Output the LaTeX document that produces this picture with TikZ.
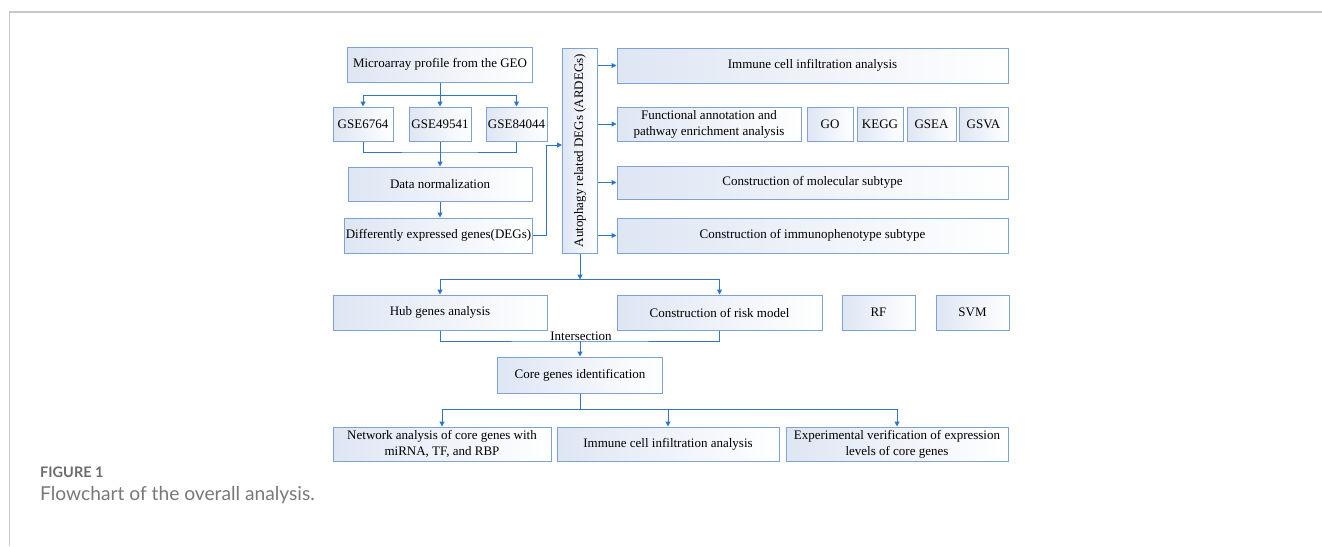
\documentclass[tikz,border=0pt]{standalone}
\usepackage{fontspec}
\setmainfont{Liberation Serif}
\newfontfamily\capfont{Lato}
\usetikzlibrary{arrows.meta, positioning}
\definecolor{linkblue}{RGB}{46,117,198}
\definecolor{boxedge}{RGB}{126,162,214}
\definecolor{boxfill}{RGB}{222,230,243}
\definecolor{framegray}{RGB}{200,200,200}
\definecolor{capgray}{RGB}{120,120,120}

\begin{document}
\begin{tikzpicture}[x=1pt, y=-1pt, >={Triangle[length=5pt,width=5pt]},
		box/.style={draw=boxedge, line width=1pt, left color=boxfill, middle color=white, right color=white,
			inner sep=1pt, align=center, minimum height=35, font=\fontsize{13}{16}\selectfont},
		link/.style={draw=linkblue, line width=1pt}]
				\useasboundingbox (0,0) rectangle (1322,546);
				\draw [framegray, line width=1.5pt] (9.5,546) -- (9.5,12) -- (1322,12);
				
				% left column
				\node [box, minimum width=185] (geo) at (440,64.5) {Microarray profile from the GEO};
				\node [box, minimum width=60, minimum height=34] (gse1) at (363,124) {GSE6764};
				\node [box, minimum width=62, minimum height=34] (gse2) at (440,124) {GSE49541};
				\node [box, minimum width=61, minimum height=34] (gse3) at (516.5,124) {GSE84044};
				\node [box, minimum width=184, minimum height=34] (norm) at (440,184) {Data normalization};
				\node [box, minimum width=187] (degs) at (438.5,235.5) {Differently expressed genes(DEGs)};
				\node [box, minimum width=35, minimum height=205] (ardegs) at (580,150.5) {\rotatebox{90}{Autophagy related DEGs (ARDEGs)}};
				
				% right column
				\node [box, minimum width=391] (imm) at (812.5,65.5) {Immune cell infiltration analysis};
				\node [box, minimum width=184, minimum height=34] (func) at (709,124) {Functional annotation and\\pathway enrichment analysis};
				\node [box, minimum width=46, minimum height=34] (go) at (830,124) {GO};
				\node [box, minimum width=46, minimum height=34] (kegg) at (880,124) {KEGG};
				\node [box, minimum width=49, minimum height=34] (gsea) at (931.5,124) {GSEA};
				\node [box, minimum width=49, minimum height=34] (gsva) at (983.5,124) {GSVA};
				\node [box, minimum width=391, minimum height=33] (mol) at (812.5,182.5) {Construction of molecular subtype};
				\node [box, minimum width=391] (immph) at (812.5,235.5) {Construction of immunophenotype subtype};
				
				% lower part
				\node [box, minimum width=214] (hub) at (440,312.5) {Hub genes analysis};
				\node [box, minimum width=205] (risk) at (719.5,312.5) {Construction of risk model};
				\node [box, minimum width=73] (rf) at (878.5,312.5) {RF};
				\node [box, minimum width=73, right=20pt of rf] (svm) {SVM};
				\node [box, minimum width=165, minimum height=36] (core) at (580,375) {Core genes identification};
				\node [box, minimum width=218, minimum height=34] (net) at (442,444) {Network analysis of core genes with\\miRNA, TF, and RBP};
				\node [box, minimum width=222, minimum height=34] (imm2) at (668,444) {Immune cell infiltration analysis};
				\node [box, minimum width=222, minimum height=34] (exp) at (897,444) {Experimental verification of expression\\levels of core genes};
				
				\coordinate (split1) at (440,95);
				\draw [link] (geo) -- (split1);
				\draw [link, ->] (split1) -| (gse1);
				\draw [link, ->] (split1) -- (gse2);
				\draw [link, ->] (split1) -| (gse3);
				\coordinate (merge1) at (440,152);
				\draw [link] (gse1) |- (merge1) -| (gse3);
				\draw [link, ->] (gse2) -- (norm);
				\draw [link, ->] (norm) -- (norm |- degs.north);
				\draw [link, ->] (degs.east) -- ++(14,0) |- ([yshift=5.5pt]ardegs.west);
				\foreach \n in {imm, func, mol, immph}
					\draw [link, ->] (ardegs.east |- \n) -- (\n);
				
				\draw [link, ->] (ardegs.south) -- ++(0,26) coordinate (split2);
				\draw [link, ->] (split2) -| (hub);
				\draw [link, ->] (split2) -| (risk);
				\coordinate (merge2) at (580,341);
				\draw [link] (hub) |- (merge2) -| (risk);
				\node [anchor=base, inner sep=0pt, font=\fontsize{13}{16}\selectfont] (isect) at (581,340) {Intersection};
				\draw [link, ->] (merge2) -- (core);
				
				\draw [link] (core.south) -- ++(0,16) coordinate (split3);
				\draw [link, ->] (split3) -| (net);
				\draw [link, ->] (split3) -| (imm2);
				\draw [link, ->] (split3) -| (exp);
				
				\node [anchor=base west, inner sep=0pt, text=capgray!90!black, font=\capfont\bfseries\fontsize{14.5}{17}\selectfont] (fignum) at (40,477.5) {FIGURE 1};
				\node [anchor=base west, inner sep=0pt, text=capgray, font=\capfont\fontsize{19.2}{22}\selectfont] (figcap) at (40,500) {Flowchart of the overall analysis.};
			\end{tikzpicture}
\end{document}
